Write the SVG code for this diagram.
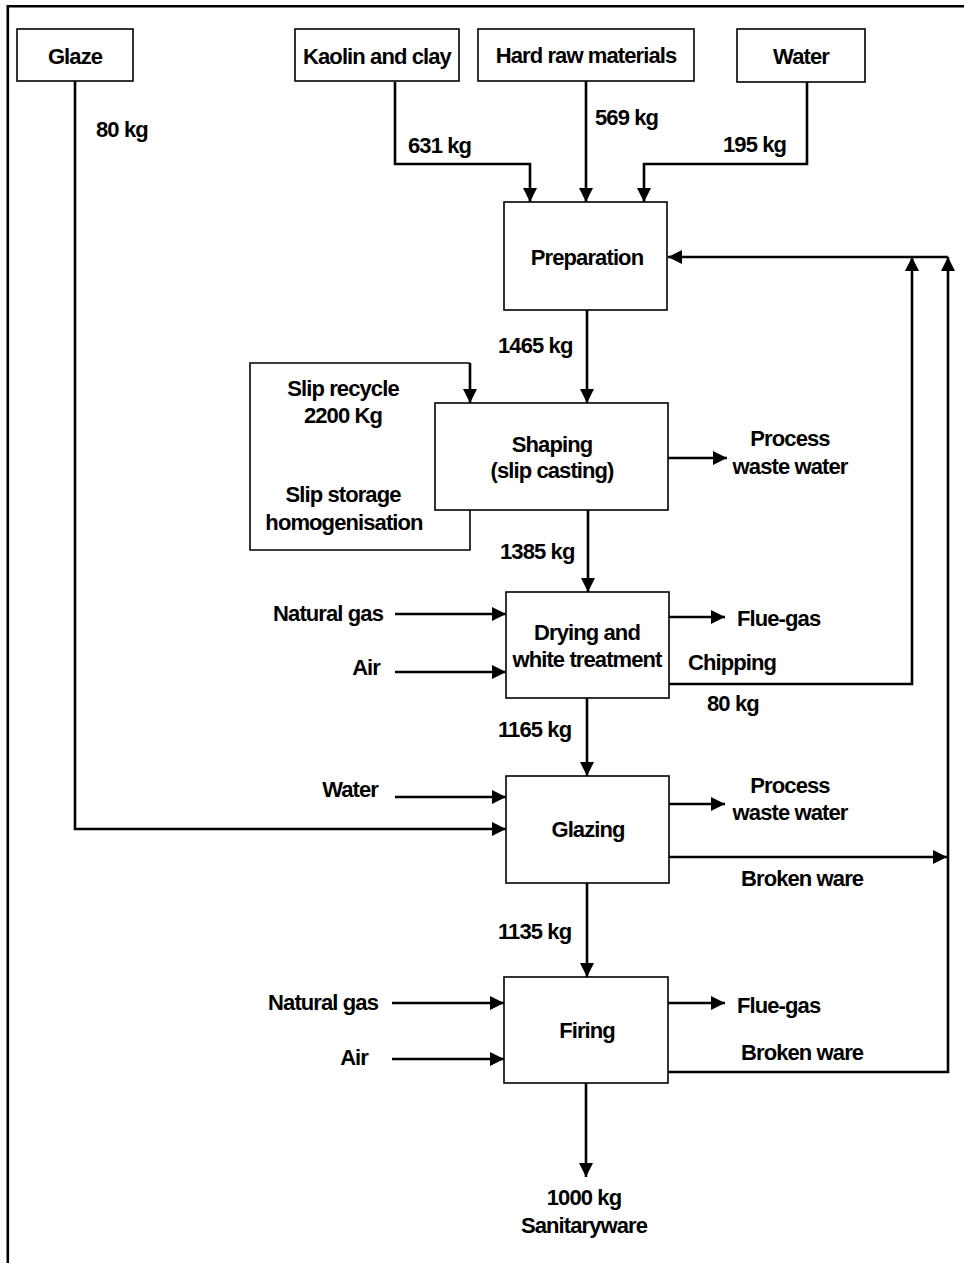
<svg xmlns="http://www.w3.org/2000/svg" width="964" height="1263" viewBox="0 0 964 1263">
<style>
  text { font-family: "Liberation Sans", Arial, sans-serif; font-weight: bold; font-size: 22px; letter-spacing: -0.9px; fill: #000; }
  .c { text-anchor: middle; }
  .r { text-anchor: end; }
  .box { fill: #fff; stroke: #000; stroke-width: 1.6; }
  .ln { fill: none; stroke: #000; stroke-width: 2.6; }
  .ar { fill: none; stroke: #000; stroke-width: 2.6; marker-end: url(#ah); }
  .frame { fill: none; stroke: #000; stroke-width: 2.6; }
</style>
<defs>
  <marker id="ah" markerUnits="userSpaceOnUse" markerWidth="15" markerHeight="14" refX="14" refY="7" orient="auto" overflow="visible">
    <path d="M0,0 L14,7 L0,14 z" fill="#000"/>
  </marker>
</defs>
<rect width="964" height="1263" fill="#fff"/>
<path class="frame" d="M7.8,1263 V6.3 H964"/>

<g id="connectors">
  <path class="ar" d="M75,81 V829 H506"/>
  <path class="ar" d="M395,82 V164 H530 V202"/>
  <path class="ar" d="M586,81 V202"/>
  <path class="ar" d="M807,82 V164 H644 V202"/>
  <path class="ar" d="M587,310 V403"/>
  <path class="ar" d="M470,363 V403"/>
  <path class="ar" d="M668,458 H727"/>
  <path class="ar" d="M588,510 V592"/>
  <path class="ar" d="M395,614 H506"/>
  <path class="ar" d="M395,672 H506"/>
  <path class="ar" d="M669,617 H725"/>
  <path class="ar" d="M669,684 H912 V257"/>
  <path class="ar" d="M587,698 V776"/>
  <path class="ar" d="M395,797 H506"/>
  <path class="ar" d="M669,804 H725"/>
  <path class="ar" d="M669,857 H947"/>
  <path class="ar" d="M668,1072 H948 V257"/>
  <path class="ar" d="M948,257 H668"/>
  <path class="ar" d="M587,883 V977"/>
  <path class="ar" d="M392,1003 H504"/>
  <path class="ar" d="M392,1059 H504"/>
  <path class="ar" d="M668,1003 H725"/>
  <path class="ar" d="M586,1083 V1177"/>
</g>

<g id="frame-slip">
  <path class="ln" style="stroke-width:1.6" d="M470,510 V550 H250 V363 H470"/>
  <text class="c" x="343" y="396">Slip recycle</text>
  <text class="c" x="343" y="423">2200 Kg</text>
  <text class="c" x="343" y="502">Slip storage</text>
  <text class="c" x="344" y="530">homogenisation</text>
</g>

<g id="glaze"><rect class="box" x="17" y="29" width="116" height="52"/><text class="c" x="75" y="64">Glaze</text></g>
<g id="kaolin"><rect class="box" x="295" y="29" width="164" height="52"/><text class="c" x="377" y="64">Kaolin and clay</text></g>
<g id="hard"><rect class="box" x="478" y="29" width="216" height="52"/><text class="c" x="586" y="63">Hard raw materials</text></g>
<g id="water"><rect class="box" x="737" y="29" width="128" height="53"/><text class="c" x="801" y="64">Water</text></g>

<g id="preparation"><rect class="box" x="504" y="202" width="163" height="108"/><text class="c" x="587" y="265">Preparation</text></g>
<g id="shaping"><rect class="box" x="435" y="403" width="233" height="107"/><text class="c" x="552" y="452">Shaping</text><text class="c" x="552" y="478">(slip casting)</text></g>
<g id="drying"><rect class="box" x="506" y="592" width="163" height="106"/><text class="c" x="587" y="640">Drying and</text><text class="c" x="587" y="667">white treatment</text></g>
<g id="glazing"><rect class="box" x="506" y="776" width="163" height="107"/><text class="c" x="588" y="837">Glazing</text></g>
<g id="firing"><rect class="box" x="504" y="977" width="164" height="106"/><text class="c" x="587" y="1038">Firing</text></g>

<g id="labels">
  <text x="96" y="137">80 kg</text>
  <text x="408" y="153">631 kg</text>
  <text x="595" y="125">569 kg</text>
  <text x="723" y="152">195 kg</text>
  <text x="498" y="353">1465 kg</text>
  <text class="c" x="790" y="446">Process</text>
  <text class="c" x="790" y="474">waste water</text>
  <text x="500" y="559">1385 kg</text>
  <text class="r" x="383" y="621">Natural gas</text>
  <text class="r" x="380" y="675">Air</text>
  <text x="737" y="626">Flue-gas</text>
  <text x="688" y="670">Chipping</text>
  <text x="707" y="711">80 kg</text>
  <text x="498" y="737">1165 kg</text>
  <text class="r" x="378" y="797">Water</text>
  <text class="c" x="790" y="793">Process</text>
  <text class="c" x="790" y="820">waste water</text>
  <text x="741" y="886">Broken ware</text>
  <text x="498" y="939">1135 kg</text>
  <text class="r" x="378" y="1010">Natural gas</text>
  <text class="r" x="368" y="1065">Air</text>
  <text x="737" y="1013">Flue-gas</text>
  <text x="741" y="1060">Broken ware</text>
  <text class="c" x="584" y="1205">1000 kg</text>
  <text class="c" x="584" y="1233">Sanitaryware</text>
</g>
</svg>
